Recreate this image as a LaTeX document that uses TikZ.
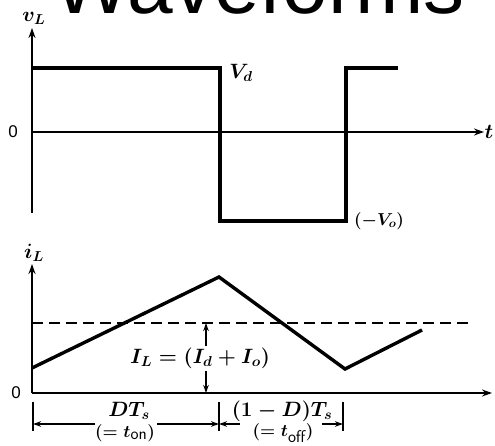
\documentclass[tikz,border=0pt]{standalone}
\usepackage{fontspec}
\newfontfamily\titlefont{Liberation Sans}
\usetikzlibrary{arrows.meta}
\begin{document}
\begin{tikzpicture}[x=1pt,y=-1pt,
  axis/.style={line width=1.8pt},
  axarrow/.style={line width=1.8pt,-{Stealth[length=10pt,width=7pt]}},
  wave/.style={line width=3.4pt,line join=miter},
  dashln/.style={line width=1.4pt,dash pattern=on 11pt off 6pt},
  tickln/.style={line width=1.4pt},
  dimarrow/.style={line width=1.4pt,-{Stealth[length=8pt,width=5.5pt]}},
  lbl/.style={inner sep=0pt,font=\fontsize{20}{22}\selectfont\boldmath},
  slbl/.style={inner sep=0pt,font=\fontsize{17}{19}\selectfont\boldmath},
  zero/.style={inner sep=0pt,font=\titlefont\fontsize{17}{17}\selectfont}]
\useasboundingbox (0,0) rectangle (495,446);
% title
\node[anchor=base,inner sep=0pt,font=\titlefont\fontsize{82}{82}\selectfont] (title) at (259,14) {Waveforms};
% ---------- v_L plot ----------
\coordinate (vo) at (32,132);
\coordinate (vtop) at (32,28);
\coordinate (vbot) at (32,213);
\coordinate (vend) at (484,132);
\draw[axis] (vbot) -- (vo);
\draw[axarrow] (vo) -- (vtop);
\draw[axarrow] (vo) -- (vend);
\coordinate (w1) at (32,68);
\coordinate (w2) at (220,68);
\coordinate (w3) at (220,221);
\coordinate (w4) at (346,221);
\coordinate (w5) at (346,68);
\coordinate (w6) at (398,68);
\draw[wave] (w1) -- (w2) -- (w3) -- (w4) -- (w5) -- (w6);
\node[lbl] (vL) at (34,18) {$v_L$};
\node[lbl] (Vd) at (241,73) {$V_d$};
\node[slbl] (Vo) at (379,221) {$(-V_o)$};
\node[lbl] (t) at (489,132) {$t$};
\node[zero] (z1) at (13,132) {0};
% ---------- i_L plot ----------
\coordinate (io) at (32,393);
\coordinate (itop) at (32,264);
\coordinate (iend) at (492,393);
\draw[axarrow] (io) -- (itop);
\draw[axarrow] (io) -- (iend);
\node[lbl] (iL) at (34,253) {$i_L$};
\node[zero] (z2) at (16,393) {0};
\coordinate (ds) at (32,323);
\coordinate (de) at (470,323);
\draw[dashln] (ds) -- (de);
\coordinate (p1) at (32,368);
\coordinate (p2) at (219,277);
\coordinate (p3) at (345,369);
\coordinate (p4) at (422,330);
\draw[wave] (p1) -- (p2) -- (p3) -- (p4);
% I_L arrows
\node[lbl] (IL) at (200,358) {$I_L = (I_d + I_o)$};
\coordinate (ILt) at (206,346);
\coordinate (ILd) at (206,323);
\coordinate (ILb) at (206,371);
\coordinate (IL0) at (206,393);
\draw[dimarrow] (ILt) -- (ILd);
\draw[dimarrow] (ILb) -- (IL0);
% ---------- dimension row ----------
\coordinate (k0t) at (33,402); \coordinate (k0b) at (33,431);
\coordinate (k1t) at (219,402); \coordinate (k1b) at (219,431);
\coordinate (k2t) at (343,402); \coordinate (k2b) at (343,431);
\draw[tickln] (k0t) -- (k0b);
\draw[tickln] (k1t) -- (k1b);
\draw[tickln] (k2t) -- (k2b);
\coordinate (d0) at (33,424);
\coordinate (d1) at (219,424);
\coordinate (d2) at (343,424);
\coordinate (a1) at (95,424);
\coordinate (a2) at (157,424);
\coordinate (b1) at (240,424);
\coordinate (b2) at (322,424);
\draw[dimarrow] (a1) -- (d0);
\draw[dimarrow] (a2) -- (d1);
\draw[dimarrow] (b1) -- (d1);
\draw[dimarrow] (b2) -- (d2);
\node[lbl] (DT) at (129,411) {$DT_s$};
\node[slbl] (ton) at (125,433) {$(=t_{\textsf{on}})$};
\node[lbl] (DT2) at (282,411) {$(1-D)T_s$};
\node[slbl] (toff) at (283,433) {$(=t_{\textsf{off}})$};
\end{tikzpicture}
\end{document}
